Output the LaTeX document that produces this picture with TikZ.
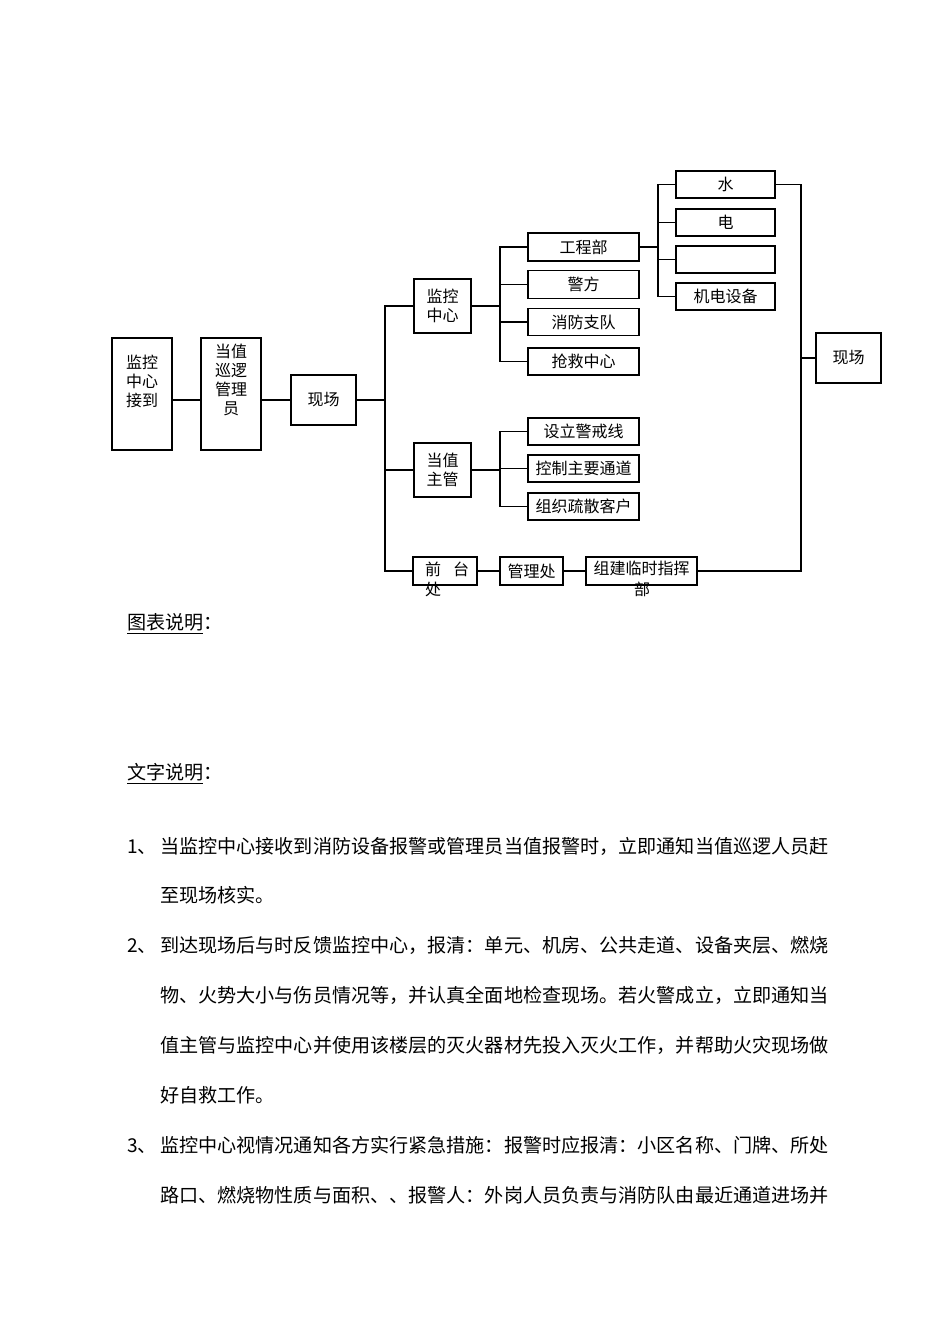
\documentclass[tikz,border=0pt]{standalone}
\usepackage{fontspec}
\setmainfont{Noto Sans CJK SC}
\begin{document}
\begin{tikzpicture}[x=1pt,y=-1pt,
  box/.style={draw,line width=1.2pt,inner sep=0pt,align=center,font=\fontsize{16}{19}\selectfont},
  ln/.style={line width=1.2pt},
  body/.style={anchor=base west,inner sep=0pt,font=\fontsize{19.1}{20}\selectfont},
  lbl/.style={inner sep=0pt,font=\fontsize{16}{19}\selectfont}]
\useasboundingbox (0,0) rectangle (950,1344);
% boxes
\node[box,minimum width=60,minimum height=112] (jk1) at (142,394) {监控\\中心\\接到\\[8pt]};
\node[box,minimum width=60,minimum height=112] (dz) at (231,394) {当值\\巡逻\\管理\\员\\[10pt]};
\node[box,minimum width=65,minimum height=50] (xc) at (323.5,400) {现场};
\node[box,minimum width=57,minimum height=54] (jk2) at (442.5,306) {监控\\中心};
\node[box,minimum width=57,minimum height=54] (zg) at (442.5,470) {当值\\主管};
\node[box,minimum width=64,minimum height=28] (qt) at (445,571) {};
\node[lbl,anchor=west] (qtt) at (425,569) {前\hspace{12pt}台};
\node[lbl] (qtc) at (433,589) {处};
\node[box,minimum width=63,minimum height=28] (glc) at (531.5,571) {管理处};
\node[box,minimum width=111,minimum height=28] (zj) at (641.5,571) {};
\node[lbl] (zjt) at (641.5,568) {组建临时指挥};
\node[lbl] (zjb) at (642,589) {部};
\node[box,minimum width=65,minimum height=50] (xcr) at (848.5,358) {现场};
\node[box,minimum width=111,minimum height=28] (gcb) at (583.5,247) {工程部};
\node[box,minimum width=111,minimum height=28] (jf) at (583.5,284.5) {警方};
\node[box,minimum width=111,minimum height=27] (xf) at (583.5,322) {消防支队};
\node[box,minimum width=111,minimum height=27] (qj) at (583.5,361.5) {抢救中心};
\node[box,minimum width=99,minimum height=27] (sh) at (725.5,184.5) {水};
\node[box,minimum width=99,minimum height=27] (di) at (725.5,222.5) {电};
\node[box,minimum width=99,minimum height=27] (bl) at (725.5,259.5) {};
\node[box,minimum width=99,minimum height=27] (jd) at (725.5,296.5) {机电设备};
\node[box,minimum width=111,minimum height=27] (sl) at (583.5,431.5) {设立警戒线};
\node[box,minimum width=111,minimum height=27] (kz) at (583.5,468.5) {控制主要通道};
\node[box,minimum width=111,minimum height=27] (zz) at (583.5,506.5) {组织疏散客户};
% bus coordinates
\coordinate (tr) at (385,400);
\coordinate (b1) at (500,0);
\coordinate (b2) at (658,0);
\coordinate (b3) at (801,0);
% connectors
\draw[ln] (jk1.east |- xc.west) -- (dz.west |- xc.west);
\draw[ln] (dz.east |- xc.west) -- (xc.west);
\draw[ln] (xc.east) -- (tr);
\draw[ln] (jk2.west) -- (jk2.west -| tr) -- (qt.west -| tr) -- (qt.west);
\draw[ln] (zg.west) -- (zg.west -| tr);
\draw[ln] (jk2.east) -- (jk2.east -| b1);
\draw[ln] (gcb.west) -- (gcb.west -| b1) -- (qj.west -| b1) -- (qj.west);
\draw[ln] (jf.west) -- (jf.west -| b1);
\draw[ln] (xf.west) -- (xf.west -| b1);
\draw[ln] (gcb.east) -- (gcb.east -| b2);
\draw[ln] (sh.west) -- (sh.west -| b2) -- (jd.west -| b2) -- (jd.west);
\draw[ln] (di.west) -- (di.west -| b2);
\draw[ln] (bl.west) -- (bl.west -| b2);
\draw[ln] (sh.east) -- (sh.east -| b3) -- (zj.east -| b3) -- (zj.east);
\draw[ln] (xcr.west) -- (xcr.west -| b3);
\draw[ln] (zg.east) -- (zg.east -| b1);
\draw[ln] (sl.west) -- (sl.west -| b1) -- (zz.west -| b1) -- (zz.west);
\draw[ln] (kz.west) -- (kz.west -| b1);
\draw[ln] (qt.east) -- (glc.west);
\draw[ln] (glc.east) -- (zj.west);
% text
\node[body] (h1) at (127,629) {图表说明：};
\draw[line width=0.9pt] (127,633) -- (203,633);
\node[body] (h2) at (127,779) {文字说明：};
\draw[line width=0.9pt] (127,783) -- (203,783);
\node[body] (n1) at (127,853) {1、};
\node[body] (l1) at (160,853) {当监控中心接收到消防设备报警或管理员当值报警时，立即通知当值巡逻人员赶};
\node[body] (l2) at (160,902) {至现场核实。};
\node[body] (n2) at (127,952) {2、};
\node[body] (l3) at (160,952) {到达现场后与时反馈监控中心，报清：单元、机房、公共走道、设备夹层、燃烧};
\node[body] (l4) at (160,1002) {物、火势大小与伤员情况等，并认真全面地检查现场。若火警成立，立即通知当};
\node[body] (l5) at (160,1052) {值主管与监控中心并使用该楼层的灭火器材先投入灭火工作，并帮助火灾现场做};
\node[body] (l6) at (160,1102) {好自救工作。};
\node[body] (n3) at (127,1152) {3、};
\node[body] (l7) at (160,1152) {监控中心视情况通知各方实行紧急措施：报警时应报清：小区名称、门牌、所处};
\node[body] (l8) at (160,1202) {路口、燃烧物性质与面积、、报警人：外岗人员负责与消防队由最近通道进场并};
\end{tikzpicture}
\end{document}
